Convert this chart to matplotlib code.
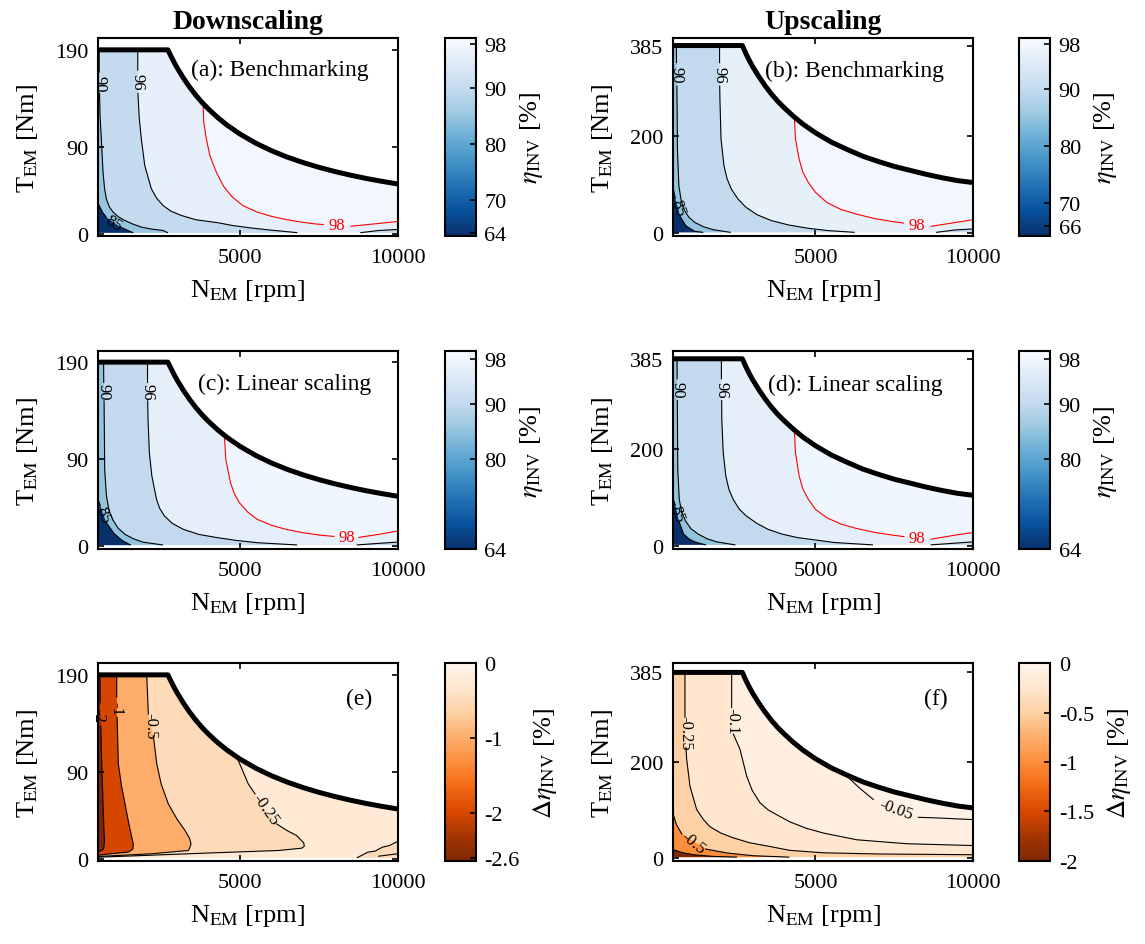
import numpy as np
import matplotlib
matplotlib.use("Agg")
import matplotlib.pyplot as plt
from matplotlib.patches import Polygon
from matplotlib.colors import Normalize
from matplotlib.cm import ScalarMappable

plt.rcParams["font.family"] = ["Liberation Serif", "DejaVu Serif"]
plt.rcParams["mathtext.fontset"] = "stix"

nan = np.nan

# ---------------------------------------------------------------------------
# values: speed N [rpm], torque T [Nm]
# a NaN in a contour marks the gap left for its inline label
# ---------------------------------------------------------------------------
down_env_n = [500, 2711, 2800, 2900, 3000, 3200, 3400, 3600, 3800, 4000, 4300, 4600,
              5000, 5500, 6000, 6500, 7000, 7500, 8000, 8500, 9000, 9500, 10000]
down_env_t = [190, 190, 184, 177.6, 171.7, 161, 151.5, 143, 135.5, 128.8, 119.8, 112,
              103, 93.6, 85.8, 79.2, 73.6, 68.7, 64.4, 60.6, 57.2, 54.2, 51.5]
up_env_n = [500, 2684, 2800, 2900, 3000, 3200, 3400, 3600, 3800, 4000, 4300, 4600,
            5000, 5500, 6000, 6500, 7000, 7500, 8000, 8500, 9000, 9500, 10000]
up_env_t = [385, 385, 368, 355, 343, 322, 303, 286, 271, 258, 240, 224,
            206, 187, 172, 158, 147, 137, 129, 121, 114, 108, 104]

# (a) downscaling, benchmarking  -- eta_INV [%]
a85_n = [500, 640, 757, nan, 1200, 1400, 1600]
a85_t = [31, 22, 17, nan, 7, 4, 1.2]
a90_n = [530, 530, nan, 540, 560, 598, 652, 700, 757, 850, 970, 1140, 1341, 1600, 1868, 2200, 2557, 2700]
a90_t = [190, 167, nan, 145, 120, 98, 63.7, 47, 36, 28, 22.4, 17.5, 13.8, 10, 6.9, 4.8, 3.4, 1.2]
a96_n = [1754, 1754, nan, 1760, 1800, 1868, 1976, 2185, 2350, 2557, 2800, 3138, 3600, 4302, 4753,
         5300, 5887, 6800]
a96_t = [190, 169, nan, 145, 120, 98, 70.6, 46.5, 37, 29.2, 23.5, 18.9, 14.5, 11.4, 8.6,
         6.2, 4.1, 1.2]
a98_n = [3830, 3850, 3931, 4050, 4248, 4480, 4753, 5100, 5547, 6000, 6454, 6900, 7361, 7640, nan,
         8520, 9290, 10000]
a98_t = [134.5, 115, 98, 80, 63.7, 49, 38, 29, 22.4, 18, 14.8, 12.3, 10.3, 9.5, nan,
         7.8, 10.3, 12.7]
a96b_n = [8835, 9400, 10000]
a96b_t = [1.2, 3.4, 4.5]

# (b) upscaling, benchmarking
b85_n = [500, 560, nan, 720, 900, 1173, 1429]
b85_t = [90, 72, nan, 34, 15, 4, 2]
b90_n = [593, 600, nan, 610, 620, 628, 674, 740, 825, 990, 1173, 1450, 1754, 2300]
b90_t = [385, 350, nan, 302, 250, 172.8, 97.7, 70, 49.9, 33, 22.5, 13.5, 7.5, 2]
b96_n = [1963, 1963, nan, 1968, 1974, 2009, 2102, 2200, 2334, 2550, 2799, 3150, 3611, 4150, 4772,
         5400, 6224]
b96_t = [385, 350, nan, 302, 275, 193.3, 138.7, 112, 90.8, 70, 53.3, 38, 25.9, 17, 10.2,
         5.5, 2]
b98_n = [4331, 4366, 4482, 4600, 4772, 5000, 5353, 5800, 6282, 6850, 7443, 7791, nan,
         8662, 9417, 10000]
b98_t = [238, 193.3, 152.3, 125, 104.5, 84, 63.5, 49, 39.6, 30.5, 23.9, 21, nan,
         14.3, 22, 28]
b96b_n = [8836, 9417, 10000]
b96b_t = [2, 6.8, 8.9]

# (c) downscaling, linear scaling
c85_n = [500, 560, nan, 760, 1000, 1250, 1521]
c85_t = [48, 42, nan, 24, 13, 6, 1.2]
c90_n = [670, 675, nan, 685, 695, 705, 760, 840, 954, 1130, 1351, 1620, 1918, 2541]
c90_t = [190, 169, nan, 150, 115, 79, 52, 37, 27.6, 18.5, 12.1, 7.5, 4.1, 1.2]
c96_n = [2065, 2065, nan, 2070, 2080, 2122, 2201, 2350, 2450, 2600, 2850, 3200, 3700, 4300,
         4900, 5546, 6794]
c96_t = [190, 169, nan, 150, 131, 96.7, 72.5, 48.4, 39, 31.1, 23.5, 17.3, 12, 8.6,
         5.8, 3.5, 1.2]
c98_n = [4503, 4548, 4696, 4820, 4979, 5250, 5546, 6000, 6454, 7000, 7588, 7984, nan,
         8778, 9402, 10000]
c98_t = [114.4, 89.8, 65.6, 54, 44.9, 35, 27.6, 21.5, 17.3, 13.8, 11.1, 10, nan,
         9, 12.1, 15.5]
c96b_n = [8720, 9400, 10000]
c96b_t = [1.2, 2.8, 4.1]

# (d) upscaling, linear scaling
d85_n = [500, 560, nan, 680, 825, 1000, 1173, 1522]
d85_t = [95, 84, nan, 50, 24, 14, 8.2, 2]
d90_n = [616, 620, nan, 625, 628, 639, 686, 760, 883, 1060, 1289, 1570, 1870, 2450]
d90_t = [385, 344, nan, 299, 261, 158, 96, 70, 51.5, 35, 24, 14.5, 8.2, 2]
d96_n = [2021, 2021, nan, 2030, 2033, 2079, 2160, 2260, 2392, 2580, 2799, 3150, 3495, 3950,
         4424, 5585, 6804]
d96_t = [385, 344, nan, 299, 261, 192, 144, 116, 96, 76, 62, 46, 34, 24,
         17, 6.9, 2]
d98_n = [4331, 4366, 4482, 4600, 4772, 5000, 5353, 5800, 6282, 6850, 7443, 7800, nan,
         8662, 9417, 10000]
d98_t = [238, 192, 144, 117, 96, 75, 58, 45, 36, 28, 22, 19, nan,
         13.7, 22, 27.5]
d96b_n = [8662, 9417, 10000]
d96b_t = [2, 5.5, 8.2]

# (e) downscaling, delta eta_INV [%]
e2_n = [557, 557, nan, 580, 611, 662, 695, 680, 650, 500]
e2_t = [190, 161, nan, 137, 98, 46.4, 18.9, 12, 9.5, 7]
e1_n = [1087, 1087, nan, 1100, 1138, 1240, 1350, 1460, 1563, 1614, 1600, 1456, 716, 500]
e1_t = [190, 167, nan, 146, 98, 75, 56.7, 38, 22.3, 15.5, 10, 7, 4.6, 3.6]
e05_n = [2039, 2065, 2090, nan, 2250, 2357, 2500, 2725, 3000, 3255, 3400, 3445, 3400, 3360, 2198, 500]
e05_t = [190, 170, 149.5, nan, 127, 98, 77, 56.7, 41, 29.2, 21, 15.5, 11, 8.6, 5.2, 2.4]
e025_n = [4896, 5264, 5477, nan, 6166, 6500, 6794, 7021, 7040, 6964, 6227, 4185, 1918, 500]
e025_t = [105.2, 77.3, 67, nan, 36, 29, 24.1, 16.5, 13, 11, 8.6, 6.2, 3.4, 1.7]
e025b_n = [8721, 9061, 9288, 9515, 9742, 10000]
e025b_t = [1.2, 6.9, 7.9, 12.0, 13.7, 17.9]
e025c_n = [9402, 10000]
e025c_t = [2.7, 5.2]

# (f) upscaling, delta eta_INV [%]
f1_n = [500, 800, 1131, 1764, 2500]
f1_t = [17.3, 11, 7, 3.5, 2]
f05_n = [500, 593, 767, nan, 1522, 2218, 3031, 4157]
f05_t = [90, 70, 50, nan, 18.8, 10.4, 4.9, 2]
f025_n = [867, 867, nan, 900, 921, 1026, 1238, 1450, 1659, 2000, 2397, 2900, 3559, 4193, 5247,
          7000, 10000]
f025_t = [385, 292, nan, 229, 204.8, 149, 100.6, 80, 65, 52, 42, 32, 24, 16, 11,
          8.5, 7]
f01_n = [2346, 2346, nan, 2400, 2609, 2821, 3000, 3243, 3500, 3771, 4193, 4700, 5247, 6305,
         7888, 10000]
f01_t = [385, 312, nan, 257, 225.6, 170, 140, 114.6, 100, 90, 75, 62, 52, 38,
         29.8, 26]
f005_n = [5960, 6400, 6831, nan, 8256, 8838, 10000]
f005_t = [172, 145, 121.5, nan, 84.6, 83.3, 79.8]

XL, TOP, BOT = -1000, 1000, -100
HIGHLIGHT = 98


def region(n, t, mode):
    pts = [(a, b) for a, b in zip(n, t) if not np.isnan(a)]
    if mode == "under":
        return pts + [(pts[-1][0], BOT), (pts[0][0], BOT)]
    head = [(pts[0][0], TOP)]
    if mode == "left":
        return head + pts + [(XL, pts[-1][1]), (XL, TOP)]
    return head + pts + [(pts[-1][0], BOT), (XL, BOT), (XL, TOP)]


def draw_map(ax, cax, env_n, env_t, floor, lines, under, labels, cmap, vmin, vmax,
             cb_ticks, ylim, yticks, cb_label, close="corner"):
    norm = Normalize(vmin, vmax)
    levels = sorted({lv for lv, _, _ in lines})

    def band(lv):
        i = levels.index(lv)
        return cmap(norm(levels[i - 1] if i else vmin))

    env = list(zip(env_n, env_t)) + [(env_n[-1], floor), (env_n[0], floor)]
    clip = Polygon(env, closed=True, transform=ax.transData)
    ax.add_patch(Polygon(env, closed=True, fc=cmap(norm(levels[-1])), ec="none", zorder=1))
    fills = [(lv, n, t, close) for lv, n, t in lines] + [(lv, n, t, "under") for lv, n, t in under]
    for lv, n, t, mode in sorted(fills, key=lambda f: -f[0]):
        p = Polygon(region(n, t, mode), closed=True, fc=band(lv), ec="none", zorder=1)
        ax.add_patch(p)
        p.set_clip_path(clip)
    for lv, n, t in lines + under:
        ax.plot(n, t, color="red" if lv == HIGHLIGHT else "black", lw=0.8, zorder=2)
    ax.plot(env_n, env_t, color="black", lw=3.6, zorder=3, solid_capstyle="butt",
            solid_joinstyle="round")
    for s, n, t, rot in labels:
        ax.text(n, t, s, rotation=rot, ha="center", va="center", fontsize=12,
                color="red" if s == str(HIGHLIGHT) else "black",
                rotation_mode="anchor", zorder=4, clip_on=False)

    ax.set_xlim(500, 10000)
    ax.set_ylim(*ylim)
    ax.set_xticks([5000, 10000])
    ax.set_yticks(yticks)
    ax.tick_params(direction="in", top=True, right=True, length=4, width=1.2, labelsize=16)
    ax.tick_params(axis="x", pad=8.5)
    ax.tick_params(axis="y", pad=7)
    for sp in ax.spines.values():
        sp.set_linewidth(1.5)
        sp.set_zorder(5)
    ax.set_xlabel(r"N$_\mathrm{EM}$ [rpm]", fontsize=19)
    ax.xaxis.set_label_coords(0.5, -0.21)
    ax.set_ylabel(r"T$_\mathrm{EM}$ [Nm]", fontsize=19)
    ax.yaxis.set_label_coords(-0.195, 0.5)

    cb = ax.figure.colorbar(ScalarMappable(norm, cmap), cax=cax, ticks=cb_ticks)
    cb.ax.set_yticklabels([f"{v:g}" for v in cb_ticks])
    cb.ax.tick_params(direction="in", length=4, width=1.2, labelsize=16, pad=6)
    cb.outline.set_linewidth(1.5)
    cb.set_label(cb_label, fontsize=19, labelpad=8)


fig = plt.figure(figsize=(11.45, 9.45), dpi=100)
rows = [0.7495, 0.418, 0.0881]
H = 0.209
cols = [(0.0858, 0.2614, 0.3883, 0.0275), (0.5881, 0.262, 0.8901, 0.0272)]


def make_axes(r, c):
    ax_l, ax_w, cb_l, cb_w = cols[c]
    return fig.add_axes([ax_l, rows[r], ax_w, H]), fig.add_axes([cb_l, rows[r], cb_w, H])


blues = plt.get_cmap("Blues_r")
oranges = plt.get_cmap("Oranges_r")
eta = r"$\eta_\mathrm{INV}$ [%]"
deta = r"$\Delta\eta_\mathrm{INV}$ [%]"

# (a)
ax, cax = make_axes(0, 0)
draw_map(ax, cax, down_env_n, down_env_t, 1,
         [(85, a85_n, a85_t), (90, a90_n, a90_t), (96, a96_n, a96_t), (98, a98_n, a98_t)],
         [(96, a96b_n, a96b_t)],
         [("90", 530, 156, -90), ("96", 1754, 157, -90), ("85", 975, 11.5, -32), ("98", 8080, 8.7, 0)],
         blues, 63.6, 99, [64, 70, 80, 90, 98], (-2, 202), [0, 90, 190], eta)
ax.text(6254, 170, "(a): Benchmarking", ha="center", va="center", fontsize=17, zorder=6)
ax.set_title("Downscaling", fontweight="bold", fontsize=20, pad=7)

# (b)
ax, cax = make_axes(0, 1)
draw_map(ax, cax, up_env_n, up_env_t, 2,
         [(85, b85_n, b85_t), (90, b90_n, b90_t), (96, b96_n, b96_t), (98, b98_n, b98_t)],
         [(96, b96b_n, b96b_t)],
         [("90", 600, 326, -90), ("96", 1965, 326, -90), ("85", 640, 53, -70), ("98", 8210, 18, 0)],
         blues, 64.2, 99, [66, 70, 80, 90, 98], (-5, 400), [0, 200, 385], eta)
ax.text(6226, 335, "(b): Benchmarking", ha="center", va="center", fontsize=17, zorder=6)
ax.set_title("Upscaling", fontweight="bold", fontsize=20, pad=7)

# (c)
ax, cax = make_axes(1, 0)
draw_map(ax, cax, down_env_n, down_env_t, 1,
         [(85, c85_n, c85_t), (90, c90_n, c90_t), (96, c96_n, c96_t), (98, c98_n, c98_t)],
         [(96, c96b_n, c96b_t)],
         [("90", 680, 160, -90), ("96", 2067, 160, -90), ("85", 660, 33, -70), ("98", 8380, 9.5, 0)],
         blues, 64, 99.3, [64, 80, 90, 98], (-3, 201), [0, 90, 190], eta)
ax.text(6413, 167.6, "(c): Linear scaling", ha="center", va="center", fontsize=17, zorder=6)

# (d)
ax, cax = make_axes(1, 1)
draw_map(ax, cax, up_env_n, up_env_t, 2,
         [(85, d85_n, d85_t), (90, d90_n, d90_t), (96, d96_n, d96_t), (98, d98_n, d98_t)],
         [(96, d96b_n, d96b_t)],
         [("90", 620, 322, -90), ("96", 2025, 322, -90), ("85", 615, 67, -70), ("98", 8210, 16.5, 0)],
         blues, 64, 99.3, [64, 80, 90, 98], (-6.5, 400), [0, 200, 385], eta)
ax.text(6254, 333, "(d): Linear scaling", ha="center", va="center", fontsize=17, zorder=6)

# (e)
ax, cax = make_axes(2, 0)
draw_map(ax, cax, down_env_n, down_env_t, 1,
         [(-2, e2_n, e2_t), (-1, e1_n, e1_t), (-0.5, e05_n, e05_t), (-0.25, e025_n, e025_t)],
         [(-0.25, e025b_n, e025b_t), (-0.25, e025c_n, e025c_t)],
         [("-2", 520, 149, -90), ("-1", 1090, 156, -90), ("-0.5", 2170, 138, -90),
          ("-0.25", 5820, 51, -55)],
         oranges, -2.63, 0, [-2.6, -2, -1, 0], (-2, 202), [0, 90, 190], deta, close="left")
ax.text(8775, 165.7, "(e)", ha="center", va="center", fontsize=17, zorder=6)

# (f)
ax, cax = make_axes(2, 1)
draw_map(ax, cax, up_env_n, up_env_t, 2,
         [(-1, f1_n, f1_t), (-0.5, f05_n, f05_t), (-0.25, f025_n, f025_t),
          (-0.1, f01_n, f01_t), (-0.05, f005_n, f005_t)],
         [],
         [("-0.25", 880, 260, -90), ("-0.1", 2360, 285, -90), ("-0.05", 7540, 102, -20),
          ("-0.5", 1130, 33, -40)],
         oranges, -2, 0, [-2, -1.5, -1, -0.5, 0], (-5.5, 404), [0, 200, 385], deta)
ax.text(8804, 331, "(f)", ha="center", va="center", fontsize=17, zorder=6)

fig.savefig("out.png", dpi=100)
